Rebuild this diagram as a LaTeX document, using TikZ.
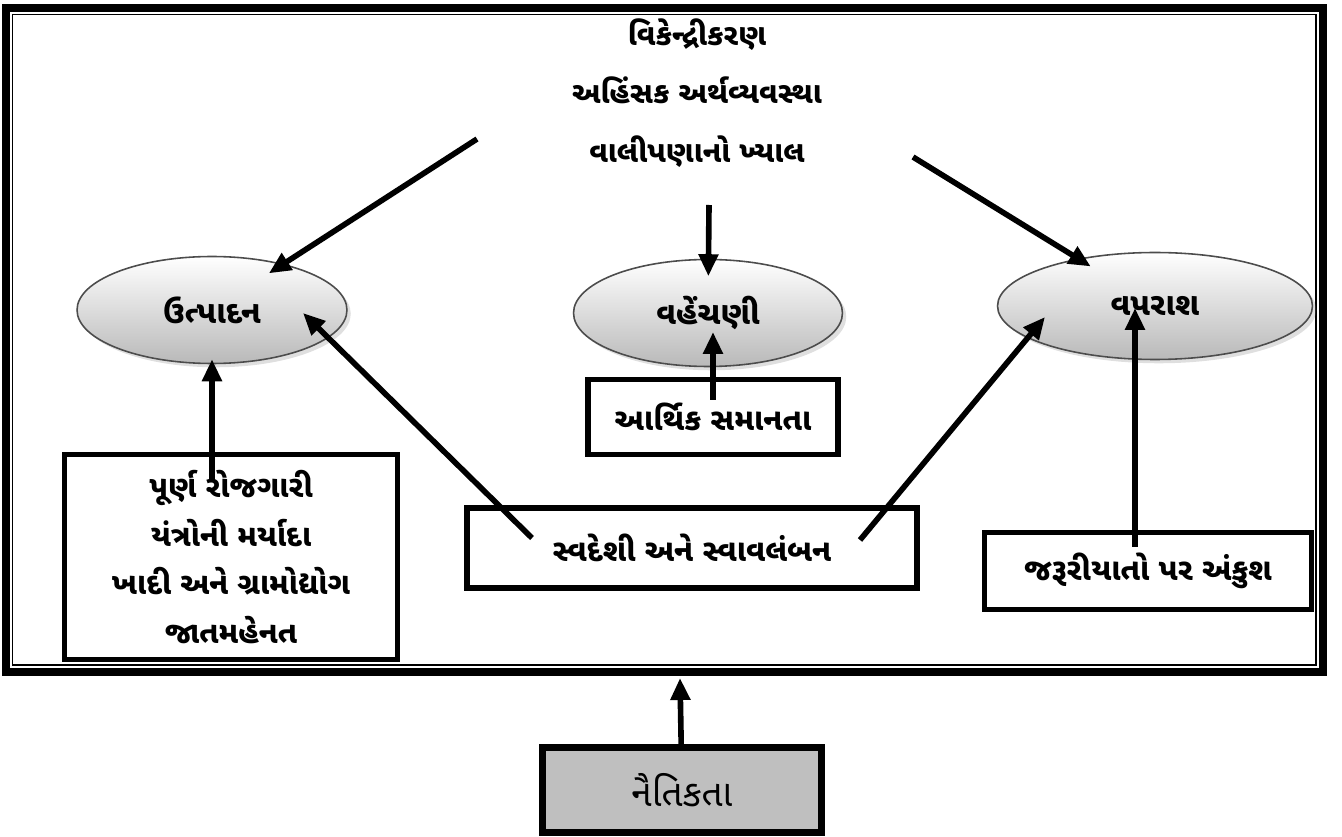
\documentclass[tikz,border=0pt]{standalone}
\usepackage{fontspec}
\newfontfamily\guj[Script=Gujarati]{Noto Sans Gujarati UI}
\usetikzlibrary{arrows.meta,shadows,shapes.geometric,positioning}
\begin{document}
\begin{tikzpicture}[x=0.02cm,y=-0.02cm,
    font=\guj\bfseries\fontsize{17.5}{21}\selectfont,
    elli/.style={ellipse, draw=gray!60!black, line width=0.9pt,
      top color=white, bottom color=gray!55, minimum width=#1,
      minimum height=2.14cm, drop shadow={opacity=0.25},
      font=\guj\bfseries\fontsize{18}{21}\selectfont},
    elli/.default=5.4cm,
    box/.style={draw, line width=3pt, fill=white, align=center},
    arr/.style={line width=3.2pt, -{Triangle[length=0.44cm,width=0.38cm]}}]
  \useasboundingbox (0,0) rectangle (1342,837);
  % double frame
  \draw[line width=4.5pt] (6,8) rectangle (1323,672);
  \draw[line width=0.9pt] (12.5,14.5) rectangle (1316,665);
  % ideas at the top
  \node[align=center, font=\guj\bfseries\fontsize{17}{33.5}\selectfont] (vichar) at (697,93)
    {વિકેન્દ્રીકરણ\\ અહિંસક અર્થવ્યવસ્થા\\ વાલીપણાનો ખ્યાલ};
  \node[elli=5.4cm] (utpadan) at (212,310) {ઉત્પાદન};
  \node[elli=5.38cm] (vahenchani) at (708,313) {વહેંચણી};
  \node[elli=6.3cm] (vaparash) at (1155,306) {વપરાશ};
  % boxes
  \node[box, minimum width=6.66cm, minimum height=4.1cm,
    font=\guj\bfseries\fontsize{17.3}{27.6}\selectfont] (rojgar) at (231,557)
    {પૂર્ણ રોજગારી\\ યંત્રોની મર્યાદા\\ ખાદી અને ગ્રામોદ્યોગ\\ જાતમહેનત};
  \node[box, minimum width=5cm, minimum height=1.5cm] (samanata) at (713,417) {આર્થિક સમાનતા};
  \node[box, minimum width=9cm, minimum height=1.6cm] (swadeshi) at (692,548) {સ્વદેશી અને સ્વાવલંબન};
  \node[box, minimum width=6.54cm, minimum height=1.54cm] (ankush) at (1148,571) {જરૂરીયાતો પર અંકુશ};
  \node[box, fill=gray!50, line width=4pt, minimum width=5.6cm, minimum height=1.7cm,
    font=\guj\fontsize{21}{24}\selectfont] (naitikta) at (682,790) {નૈતિકતા};
  % free ends of the arrows
  \coordinate (v1) at (477,139);
  \coordinate (v2) at (709,205);
  \coordinate (v3) at (913,157);
  \coordinate (r1) at (212,480);
  \coordinate (a1) at (713,400);
  \coordinate (a2) at (713,332);
  \coordinate (s1) at (532,538);
  \coordinate (u2) at (303,313);
  \coordinate (s2) at (860,540);
  \coordinate (p2) at (1045,317);
  \coordinate (k1) at (1135,547);
  \coordinate (k2) at (1135,308);
  \coordinate (n2) at (680,678);
  % arrows
  \draw[arr, shorten >=-0.35cm] (v1) -- (utpadan);
  \draw[arr, shorten >=-0.35cm] (v2) -- (vahenchani);
  \draw[arr, shorten >=-0.3cm] (v3) -- (vaparash);
  \draw[arr, shorten >=-0.1cm] (r1) -- (utpadan);
  \draw[arr] (a1) -- (a2);
  \draw[arr] (s1) -- (u2);
  \draw[arr] (s2) -- (p2);
  \draw[arr] (k1) -- (k2);
  \draw[arr] (naitikta) -- (n2);
\end{tikzpicture}
\end{document}
